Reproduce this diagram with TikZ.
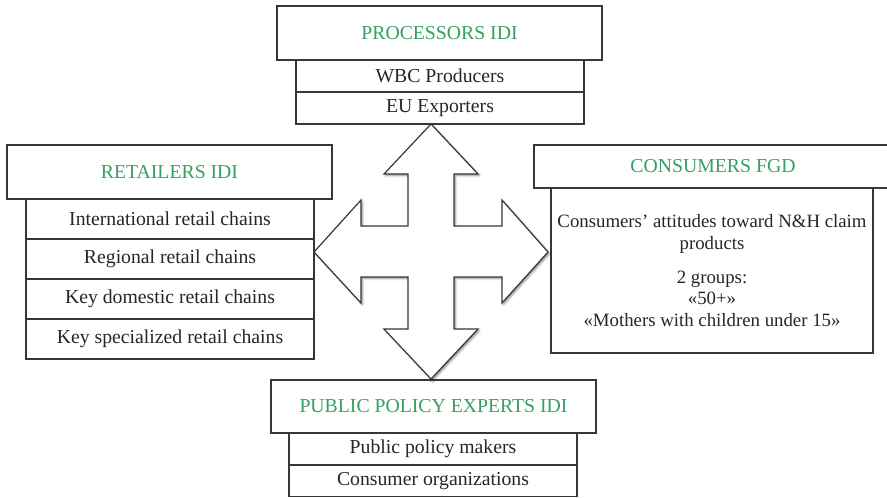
\documentclass[tikz,border=0pt]{standalone}
\usepackage{fontspec}
\setmainfont{Liberation Serif}
\usetikzlibrary{shadows.blur}

\definecolor{headgreen}{RGB}{56,158,98}
\definecolor{linegray}{RGB}{55,55,55}

\begin{document}
\begin{tikzpicture}[x=0.75pt, y=-0.75pt,
    font=\fontsize{14.8}{16.1}\selectfont,
    box/.style={draw=linegray, line width=0.9pt, fill=white, inner sep=0pt},
    header/.style={box, minimum width=243.75pt, minimum height=40.5pt, text=headgreen},
    item/.style={box, minimum width=216pt, minimum height=24pt, text=black!85},
    retitem/.style={item, minimum height=30pt}]
    \useasboundingbox (0,0) rectangle (887,497);

    % processors (top)
    \node[item] (wbc) at (440,76) {WBC Producers};
    \node[item] (euexp) at (440,108) {EU Exporters};
    \node[header] (proc) at (439.5,33) {PROCESSORS IDI};

    % retailers (left)
    \node[retitem] (intl) at (170,219) {International retail chains};
    \node[retitem] (regional) at (170,259) {Regional retail chains};
    \node[retitem] (domestic) at (170,299) {Key domestic retail chains};
    \node[retitem] (special) at (170,339) {Key specialized retail chains};
    \node[header] (ret) at (169.5,172) {RETAILERS IDI};

    % consumers (right)
    \node[box, minimum width=241.5pt, minimum height=123.75pt, align=center,
          text=black!85, font=\fontsize{14.1}{16.1}\selectfont] (attit) at (712,270.5)
        {Consumers' attitudes toward N\&H claim\\ products\\[9.5pt]
         2 groups:\\ «50+»\\ «Mothers with children under 15»};
    \node[header, minimum width=268.5pt, minimum height=32.25pt] (cons)
        at (713,166.5) {CONSUMERS FGD};

    % public policy (bottom)
    \node[item] (makers) at (433,449) {Public policy makers};
    \node[item, minimum height=23.6pt] (orgs) at (433,480.8) {Consumer organizations};
    \node[header, minimum height=39.75pt] (pub) at (433.5,406.5) {PUBLIC POLICY EXPERTS IDI};

    % four-way arrow in the middle
    \coordinate (hub) at (431,252);
    \draw[linegray, line width=0.9pt, fill=white, line join=miter,
          blur shadow={shadow xshift=1.2pt, shadow yshift=-1.2pt,
                       shadow blur radius=1.5pt, shadow opacity=45}]
        (431,124) -- (478,174) -- (454,174) -- (454,226) -- (502,226)
        -- (502,200) -- (548,252) -- (502,303) -- (502,277) -- (454,277)
        -- (454,329) -- (478,329) -- (431,379) -- (384,329) -- (408,329)
        -- (408,277) -- (361,277) -- (361,303) -- (314,252) -- (361,200)
        -- (361,226) -- (408,226) -- (408,174) -- (384,174) -- cycle;
\end{tikzpicture}
\end{document}
